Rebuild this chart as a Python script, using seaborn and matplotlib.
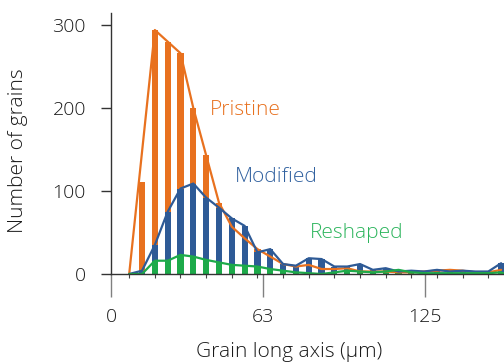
import numpy as np
import pandas as pd
import matplotlib
matplotlib.use("Agg")
import matplotlib.pyplot as plt
import seaborn as sns

# ---------------- data ----------------
bin_start = 7.24      # first bin centre, um
bin_step = 5.104      # bin spacing, um
n_bins = 30
bins = bin_start + bin_step * np.arange(n_bins)

pristine = [0, 111, 294, 280, 266, 200, 143, 86, 57, 43,
            30, 21, 12, 9, 11, 6, 6, 7, 3, 3,
            3, 2, 2, 3, 4, 5, 4, 2, 2, 5]
modified = [0, 4, 35, 75, 103, 109, 92, 80, 67, 58,
            26, 30, 12, 10, 19, 18, 9, 9, 12, 5,
            7, 3, 4, 3, 5, 3, 4, 3, 3, 13]
reshaped = [0, 0, 16, 16, 23, 21, 17, 14, 11, 10,
            9, 6, 4, 2, 1, 0, 2, 4, 3, 2,
            3, 5, 2, 1, 1, 1, 1, 1, 1, 2]

# the pristine outline skips the second bin
pristine_line_skip = [1]

series_names = ["Pristine", "Modified", "Reshaped"]
series_colors = ["#E8711F", "#2E5A96", "#1DAA4A"]
label_colors = ["#E8711F", "#3262A0", "#2DB55D"]

xtick_pos = [0, 60.5, 125]
xtick_labels = ["0", "63", "125"]
ytick_pos = [0, 100, 200, 300]

df = pd.DataFrame({"x": bins, "Pristine": pristine,
                   "Modified": modified, "Reshaped": reshaped})

# ---------------- figure ----------------
sns.set_style("ticks")
plt.rcParams["font.family"] = ["Open Sans", "DejaVu Sans"]
plt.rcParams["font.weight"] = "light"
plt.rcParams["axes.labelweight"] = "light"

fig = plt.figure(figsize=(5.04, 3.63), dpi=100)
ax = fig.add_axes([111 / 504, 1 - 274 / 363, 1 - 111 / 504, (274 - 13) / 363])

# bars first (orange behind, green on top)
for name, col in zip(series_names, series_colors):
    sns.barplot(data=df, x="x", y=name, native_scale=True, width=0.48,
                color=col, saturation=1, errorbar=None, linewidth=0, ax=ax)

# outlines
for name, col in zip(series_names, series_colors):
    d = df
    if name == "Pristine":
        d = df.drop(index=pristine_line_skip)
    sns.lineplot(data=d, x="x", y=name, color=col, linewidth=1.6,
                 sort=False, ax=ax)

ax.set_xlim(0, 156.4)
ax.set_ylim(0, 314.5)

# series labels
ax.text(39.4, 191.6, "Pristine", color=label_colors[0], fontsize=15)
ax.text(49.4, 111.2, "Modified", color=label_colors[1], fontsize=15)
ax.text(79.2, 43.4, "Reshaped", color=label_colors[2], fontsize=15)

# axes styling
sns.despine(ax=ax)
for s in ["left", "bottom"]:
    ax.spines[s].set_color("#333333")
    ax.spines[s].set_linewidth(1.0)

ax.set_xticks(xtick_pos)
ax.set_xticklabels(xtick_labels)
ax.set_xticks(bins[::2], minor=True)
ax.set_yticks(ytick_pos)
ax.tick_params(axis="x", which="major", length=16.5, width=1.0, color="#808080",
               pad=8, labelsize=14, labelcolor="#1a1a1a")
ax.tick_params(axis="x", which="minor", length=3, width=0.8, color="#444444")
ax.tick_params(axis="y", which="major", length=7, width=1.0, color="#333333",
               pad=11, labelsize=14, labelcolor="#1a1a1a")

ax.set_xlabel("Grain long axis (\u00b5m)", fontsize=15, color="#1a1a1a")
ax.set_ylabel("Number of grains", fontsize=15, color="#1a1a1a")
ax.xaxis.set_label_coords(0.453, -0.299)
ax.xaxis.label.set_va("center")
ax.yaxis.set_label_coords(-0.237, 0.471)
ax.yaxis.label.set_va("center")

fig.savefig("out.png", dpi=100)
